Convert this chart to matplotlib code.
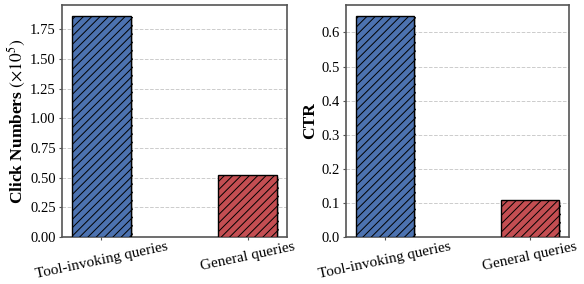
import matplotlib
matplotlib.use("Agg")
import matplotlib.pyplot as plt
import matplotlib.patheffects as pe

categories = ["Tool-invoking queries", "General queries"]
clicks = [1.86, 0.52]
ctr = [0.648, 0.108]
colors = ["#4C72B0", "#C44E52"]

plt.rcParams['font.family'] = ['Liberation Serif', 'DejaVu Serif']
plt.rcParams['hatch.linewidth'] = 0.7
plt.rcParams['mathtext.fontset'] = 'stix'

fig = plt.figure(figsize=(5.84, 2.84), dpi=100)
ax1 = fig.add_axes([62/584, 1-237/284, 225/584, 232/284])
ax2 = fig.add_axes([346/584, 1-237/284, 223/584, 232/284])

def draw(ax, vals, ylabel, yticks, labx):
    x = list(range(len(categories)))
    bars = ax.bar(x, vals, width=0.4, color=colors, edgecolor='black',
                  linewidth=1.0, hatch='////', zorder=3)
    for b in bars:
        b.set_path_effects([pe.SimplePatchShadow(offset=(1.5, -1), shadow_rgbFace='gray', alpha=0.35), pe.Normal()])
    ax.set_xticks(x)
    ax.set_xticklabels(categories, rotation=12, fontsize=11)
    ax.set_yticks(yticks)
    ax.tick_params(axis='y', labelsize=10.5, length=2.5, pad=2, color='#555555')
    ax.tick_params(axis='x', length=2.5, pad=0, color='#555555')
    ax.set_ylabel(ylabel, fontsize=12.5, fontweight='bold')
    ax.yaxis.set_label_coords(labx, 0.5)
    ax.yaxis.grid(True, linestyle='--', color='#cccccc', linewidth=0.7, zorder=0)
    ax.set_axisbelow(True)
    for s in ax.spines.values():
        s.set_color('#555555')
        s.set_linewidth(1.2)

draw(ax1, clicks, r"Click Numbers $(\times10^5)$", [0, 0.25, 0.5, 0.75, 1.0, 1.25, 1.5, 1.75], -0.15)
ax1.set_yticklabels(["0.00", "0.25", "0.50", "0.75", "1.00", "1.25", "1.50", "1.75"])
draw(ax2, ctr, "CTR", [0, 0.1, 0.2, 0.3, 0.4, 0.5, 0.6], -0.125)
ax2.set_yticklabels(["0.0", "0.1", "0.2", "0.3", "0.4", "0.5", "0.6"])

fig.savefig("out.png", dpi=100)
